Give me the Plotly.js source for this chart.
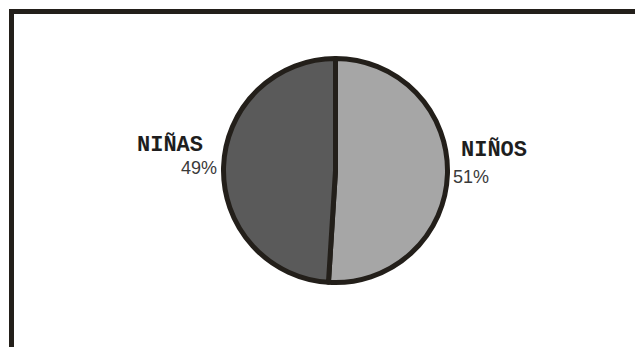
<!DOCTYPE html>
<html>
<head>
<meta charset="utf-8">
<script src="https://cdn.plot.ly/plotly-3.0.1.min.js"></script>
<style>html,body{margin:0;padding:0;background:#fff;}#chart{width:635px;height:347px;}</style>
</head>
<body>
<div id="chart"></div>
<script>
var categories = ["NIÑOS", "NIÑAS"];
var values = [51, 49];
var percentLabels = ["51%", "49%"];
var sliceColors = ["#a6a6a6", "#5a5a5a"];

var W = 635, H = 347;
function px(x){ return x / W; }
function py(y){ return 1 - y / H; }

var trace = {
  type: "pie",
  labels: categories,
  values: values,
  sort: false,
  direction: "clockwise",
  rotation: 0,
  textinfo: "none",
  hoverinfo: "label+percent",
  marker: { colors: sliceColors, line: { color: "#231f1a", width: 5 } },
  domain: { x: [px(223.5), px(447.5)], y: [py(282.5), py(58.5)] },
  showlegend: false
};

var labelFont = { family: "Liberation Mono, Courier New, monospace", size: 22, color: "#1e1e1e", weight: "bold" };
var pctFont = { family: "Liberation Sans, Arial, sans-serif", size: 18, color: "#3a3a3a" };

var layout = {
  width: W, height: H,
  margin: { l: 0, r: 0, t: 0, b: 0 },
  paper_bgcolor: "#ffffff",
  showlegend: false,
  shapes: [{
    type: "path", xref: "paper", yref: "paper",
    path: "M " + px(11.5) + "," + (-0.05) + " L " + px(11.5) + "," + py(11.5) + " L 1.05," + py(11.5),
    line: { color: "#231f1a", width: 5 }
  }],
  annotations: [
    { text: "<b>" + categories[0] + "</b>", xref: "paper", yref: "paper", x: px(459), y: py(150.5), xanchor: "left", yanchor: "middle", showarrow: false, font: labelFont },
    { text: percentLabels[0], xref: "paper", yref: "paper", x: px(451), y: py(176.5), xanchor: "left", yanchor: "middle", showarrow: false, font: pctFont },
    { text: "<b>" + categories[1] + "</b>", xref: "paper", yref: "paper", x: px(205), y: py(145), xanchor: "right", yanchor: "middle", showarrow: false, font: labelFont },
    { text: percentLabels[1], xref: "paper", yref: "paper", x: px(219.5), y: py(168), xanchor: "right", yanchor: "middle", showarrow: false, font: pctFont }
  ]
};

Plotly.newPlot("chart", [trace], layout, { displayModeBar: false, staticPlot: true });
</script>
</body>
</html>
